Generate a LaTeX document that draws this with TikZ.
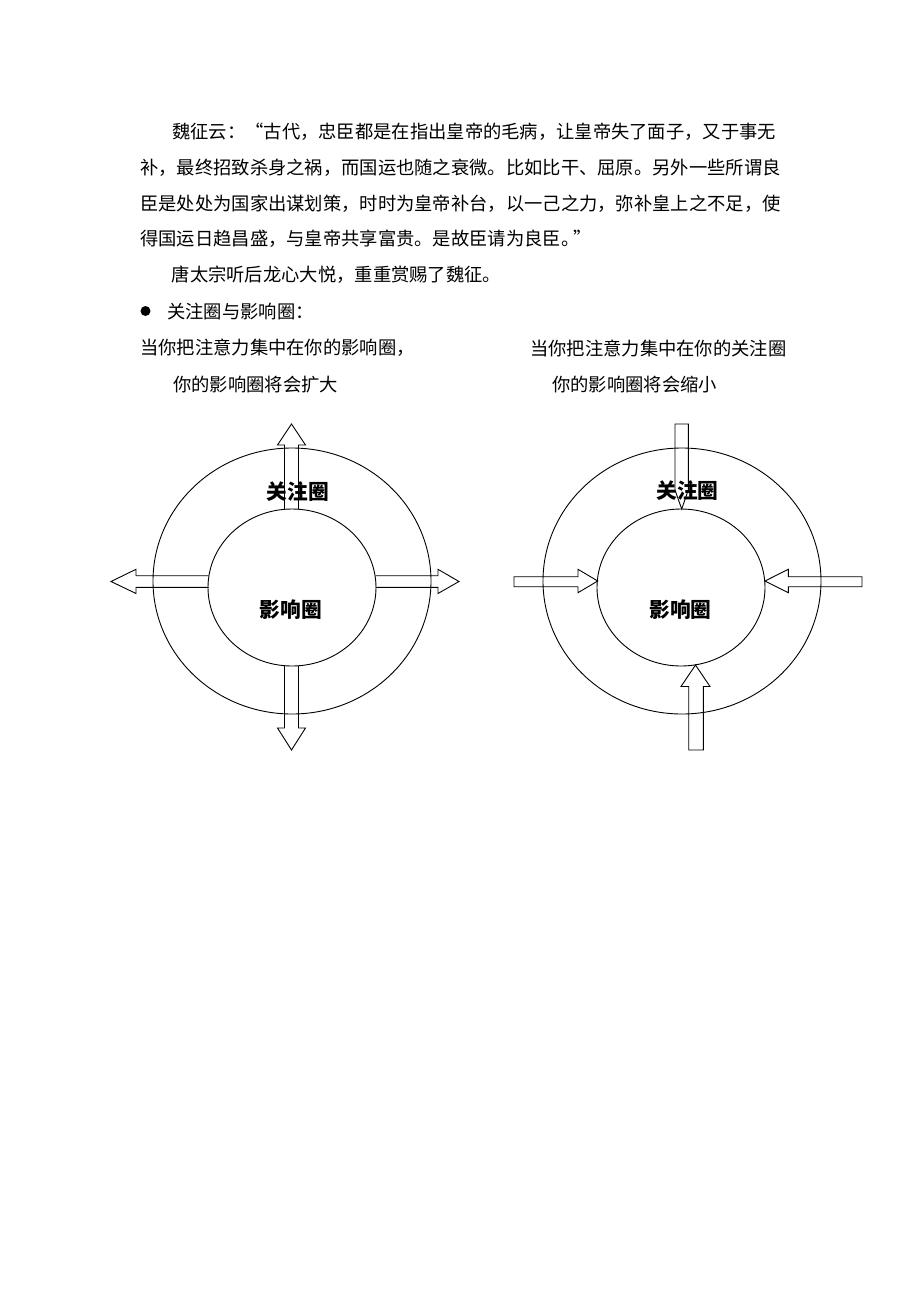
\documentclass[tikz,border=0pt]{standalone}
\usepackage{fontspec}
\newfontfamily\cjk{Noto Sans CJK SC}
\usetikzlibrary{shapes.geometric}
\newlength\chw
\setlength\chw{18.3pt}
\def\cjkrun#1{\ifx\relax#1\else\makebox[\chw]{#1}\expandafter\cjkrun\fi}
\newcommand\cjkline[1]{\cjkrun#1\relax}
\newcommand\oqmark{\makebox[\chw][r]{“}}
\newcommand\cqmark{\makebox[\chw][l]{\hspace{-6pt}”}}
\begin{document}
\begin{tikzpicture}[x=1pt,y=-1pt,
  txt/.style={anchor=west, inner sep=0pt, font=\cjk\fontsize{18.3pt}{18.3pt}\selectfont},
  lbl/.style={inner sep=0pt, font=\cjk\bfseries\fontsize{20.7pt}{20.7pt}\selectfont},
  ring/.style={draw, ellipse, inner sep=0pt, line width=0.9pt},
  barrow/.style={draw, line width=0.9pt, line join=miter}]
\useasboundingbox (0,0) rectangle (920,1302);
% paragraph
\node[txt] (l1) at (172,131.5) {\cjkline{魏征云：\oqmark 古代，忠臣都是在指出皇帝的毛病，让皇帝失了面子，又于事无}};
\node[txt] (l2) at (140,167.5) {\cjkline{补，最终招致杀身之祸，而国运也随之衰微。比如比干、屈原。另外一些所谓良}};
\node[txt] (l3) at (140,203.5) {\cjkline{臣是处处为国家出谋划策，时时为皇帝补台，以一己之力，弥补皇上之不足，使}};
\node[txt] (l4) at (140,239) {\cjkline{得国运日趋昌盛，与皇帝共享富贵。是故臣请为良臣。\cqmark}};
\node[txt] (l5) at (171.5,274.5) {\cjkline{唐太宗听后龙心大悦，重重赏赐了魏征。}};
\node[circle, fill=black, minimum size=10pt, inner sep=0pt] (bul) at (145.5,311) {};
\node[txt] (l6) at (167,311) {\cjkline{关注圈与影响圈：}};
\node[txt] (l7a) at (140,348) {\cjkline{当你把注意力集中在你的影响圈，}};
\node[txt] (l7b) at (530,348) {\cjkline{当你把注意力集中在你的关注圈}};
\node[txt] (l8a) at (173,385) {\cjkline{你的影响圈将会扩大}};
\node[txt] (l8b) at (552,385) {\cjkline{你的影响圈将会缩小}};
% left diagram
\node[ring, minimum width=278pt, minimum height=266pt] (outerL) at (292,581) {};
\node[ring, minimum width=168pt, minimum height=157pt] (innerL) at (292,587.5) {};
\draw[barrow] (284.5,509) -- (284.5,445) -- (277.5,445) -- (291.5,424) -- (305.5,445) -- (298.5,445) -- (298.5,509);
\draw[barrow] (284.5,666) -- (284.5,728) -- (277.5,728) -- (291.5,750) -- (305.5,728) -- (298.5,728) -- (298.5,666);
\draw[barrow] (208.5,575.7) -- (136,575.7) -- (136,569.3) -- (111,581.5) -- (136,593.5) -- (136,587.3) -- (208.5,587.3);
\draw[barrow] (375.5,575.7) -- (438,575.7) -- (438,569.3) -- (459,581.5) -- (438,593.5) -- (438,587.3) -- (375.5,587.3);
\node[lbl] (focL) at (298,491.5) {关注圈};
\node[lbl] (infL) at (291,609.5) {影响圈};
% right diagram
\node[ring, minimum width=278pt, minimum height=266pt] (outerR) at (682,581) {};
\node[ring, minimum width=168pt, minimum height=157pt] (innerR) at (681,587.5) {};
\draw[barrow] (675,424) -- (688.3,424) -- (688.3,490) -- (681.7,509) -- (675,490) -- cycle;
\draw[barrow] (688.7,750) -- (688.7,686.5) -- (681,686.5) -- (695.5,665) -- (710,686.5) -- (703.3,686.5) -- (703.3,750) -- cycle;
\draw[barrow] (514,576.7) -- (578,576.7) -- (578,569.3) -- (597.7,581) -- (578,592.7) -- (578,586.7) -- (514,586.7) -- cycle;
\draw[barrow] (862,576.7) -- (788.3,576.7) -- (788.3,569.3) -- (765,581) -- (788.3,592.7) -- (788.3,586.7) -- (862,586.7) -- cycle;
\node[lbl] (focR) at (687.5,491) {关注圈};
\node[lbl] (infR) at (680.5,609.5) {影响圈};
\end{tikzpicture}
\end{document}
